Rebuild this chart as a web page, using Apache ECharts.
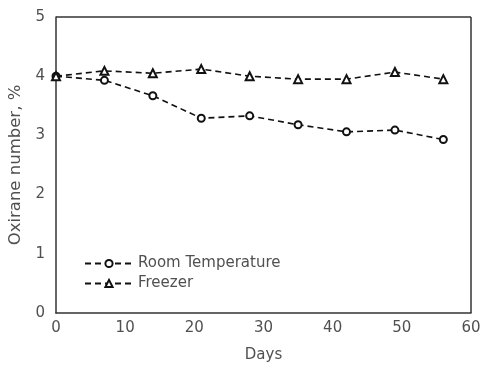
<!DOCTYPE html>
<html><head><meta charset="utf-8">
<script src="https://cdn.jsdelivr.net/npm/echarts@6/dist/echarts.min.js"></script>
<style>html,body{margin:0;padding:0;background:#fff}#c{width:482px;height:366px}</style>
</head><body><div id="c"></div>
<script>
const days = [0, 7, 14, 21, 28, 35, 42, 49, 56];
const roomTemp = [4.0, 3.93, 3.67, 3.29, 3.33, 3.18, 3.06, 3.09, 2.93];
const freezer = [4.0, 4.09, 4.05, 4.12, 4.0, 3.95, 3.95, 4.07, 3.95];
const seriesNames = ['Room Temperature', 'Freezer'];

const font = 'DejaVu Sans';
const txt = '#505050';
const chart = echarts.init(document.getElementById('c'));
function pairs(v){ return days.map((d,i)=>[d,v[i]]); }
chart.setOption({
  animation:false,
  grid:{left:56,right:11,top:17,bottom:53,outerBoundsMode:'none',containLabel:false},
  legend:{
    left:79, top:250, orient:'vertical', itemGap:3, itemWidth:48, itemHeight:9,
    textStyle:{fontFamily:font,fontSize:15,color:txt,lineHeight:17},
    data:seriesNames
  },
  xAxis:{type:'value',min:0,max:60,interval:10,
    name:'Days',nameLocation:'middle',nameGap:35,
    nameTextStyle:{fontFamily:font,fontSize:15,color:txt},
    axisLine:{onZero:false,lineStyle:{color:'#333',width:1.5}},
    axisTick:{show:false},
    axisLabel:{fontFamily:font,fontSize:15,color:txt,margin:8},
    splitLine:{show:false}},
  yAxis:{type:'value',min:0,max:5,interval:1,
    name:'Oxirane number, %',nameLocation:'middle',nameGap:31,
    nameTextStyle:{fontFamily:font,fontSize:16.5,color:txt},
    axisLine:{show:true,lineStyle:{color:'#333',width:1.5}},
    axisTick:{show:false},
    axisLabel:{fontFamily:font,fontSize:15,color:txt,margin:11},
    splitLine:{show:false}},
  series:[
    {name:seriesNames[0],type:'line',data:pairs(roomTemp),
     symbol:'emptyCircle',symbolSize:7,
     lineStyle:{color:'#111',width:1.6,type:[6,4]},
     itemStyle:{color:'#111',borderWidth:1}},
    {name:seriesNames[1],type:'line',data:pairs(freezer),
     symbol:'emptyTriangle',symbolSize:8,
     lineStyle:{color:'#111',width:1.6,type:[6,4]},
     itemStyle:{color:'#111',borderWidth:1}},
    {type:'line',data:[],silent:true,
     markLine:{silent:true,symbol:'none',label:{show:false},
       lineStyle:{color:'#333',width:1.5,type:'solid'},
       data:[[{coord:[0,5]},{coord:[60,5]}],[{coord:[60,0]},{coord:[60,5]}]]}}
  ]
});
</script></body></html>
